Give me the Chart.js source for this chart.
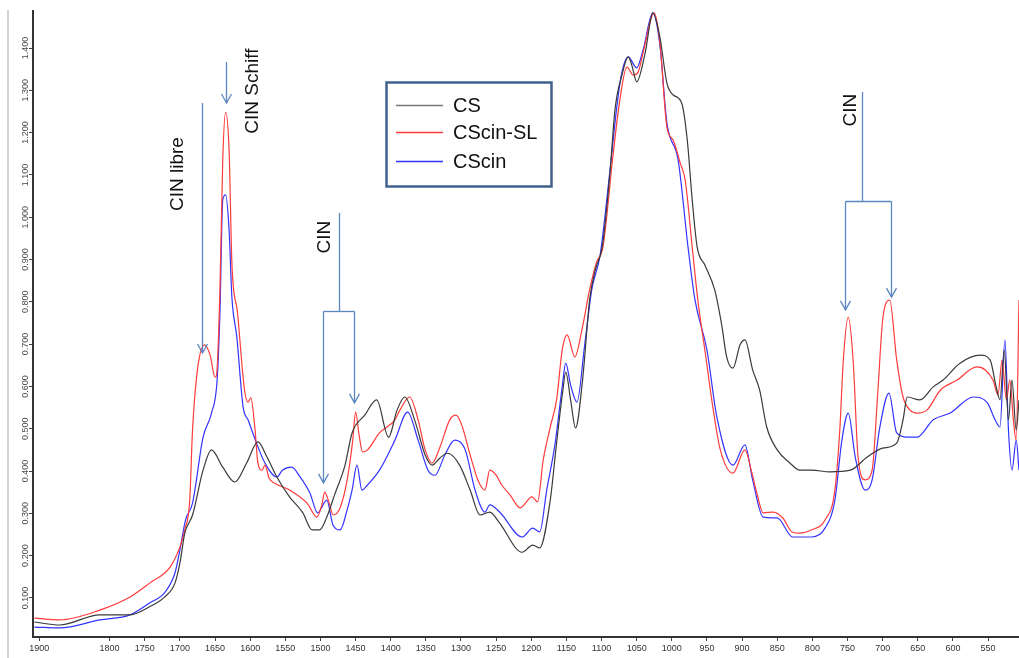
<!DOCTYPE html>
<html>
<head>
<meta charset="utf-8">
<title>FTIR - CS / CScin-SL / CScin</title>
<script src="https://cdn.jsdelivr.net/npm/chart.js@4.4.1/dist/chart.umd.min.js"></script>
<style>
  html, body { margin: 0; padding: 0; background: #fff; }
  #wrap { width: 1019px; height: 658px; }
</style>
</head>
<body>
<div id="wrap"><canvas id="ftir" width="1019" height="658"></canvas></div>
<script>
// --- spectra (wavenumber cm-1 / absorbance) ---
const csWn = [1907,1871,1814,1771,1743,1722,1707,1700,1693,1682,1667,1655,1639,1622,1605,1589,1576,1562,1544,1525,
  1512,1501,1491,1480,1465,1455,1437,1420,1403,1391,1380,1366,1351,1341,1330,1319,1302,1287,1273,1259,
  1245,1213,1198,1188,1173,1164,1155,1151,1144,1137,1127,1117,1109,1099,1088,1081,1071,1062,1057,1050,
  1038,1027,1017,1007,998,986,978,971,964,953,939,929,922,913,903,896,885,875,865,850,
  832,818,801,775,746,722,700,680,671,665,647,628,614,590,561,547,539,533,527,521,516,510,506];
const csAbs = [0.043,0.036,0.060,0.060,0.079,0.102,0.135,0.182,0.253,0.296,0.402,0.450,0.409,0.374,0.419,0.469,0.433,0.386,0.339,0.301,
  0.261,0.261,0.291,0.343,0.414,0.490,0.532,0.568,0.480,0.544,0.575,0.521,0.438,0.414,0.431,0.442,0.414,0.355,0.296,0.303,
  0.277,0.208,0.225,0.218,0.331,0.466,0.591,0.634,0.568,0.502,0.615,0.804,0.875,0.930,1.105,1.253,1.336,1.379,1.360,1.320,
  1.388,1.483,1.426,1.317,1.289,1.270,1.182,1.041,0.930,0.887,0.828,0.745,0.670,0.643,0.698,0.710,0.639,0.591,0.504,0.450,
  0.419,0.402,0.402,0.398,0.402,0.433,0.454,0.466,0.521,0.575,0.568,0.599,0.615,0.655,0.674,0.662,0.603,0.568,0.686,0.521,0.615,0.497,0.568];

const slWn = [1907,1871,1814,1771,1743,1714,1700,1693,1686,1682,1675,1665,1657,1650,1648,1643,1639,1635,1630,1626,
  1618,1608,1603,1599,1593,1589,1583,1579,1573,1565,1544,1519,1505,1498,1494,1488,1482,1472,1462,1454,
  1450,1445,1440,1433,1416,1394,1387,1373,1361,1351,1341,1330,1316,1307,1299,1287,1276,1266,1259,1250,
  1242,1230,1216,1199,1191,1183,1173,1164,1156,1149,1138,1128,1117,1107,1098,1084,1074,1064,1055,1048,
  1041,1025,1017,1007,998,988,981,971,963,953,941,931,913,896,886,879,870,856,842,829,
  818,801,782,768,761,756,749,742,735,725,715,707,700,690,680,671,661,651,637,618,
  594,566,554,543,536,530,524,519,514,510,506];
const slAbs = [0.052,0.048,0.071,0.102,0.135,0.173,0.220,0.261,0.331,0.497,0.639,0.698,0.674,0.622,0.625,0.828,1.135,1.248,1.159,0.892,
  0.774,0.591,0.563,0.573,0.497,0.419,0.402,0.414,0.383,0.371,0.355,0.324,0.291,0.320,0.350,0.327,0.296,0.313,0.379,0.473,
  0.539,0.485,0.445,0.450,0.490,0.521,0.544,0.575,0.521,0.450,0.419,0.456,0.521,0.532,0.509,0.438,0.379,0.355,0.402,0.390,
  0.367,0.343,0.313,0.339,0.327,0.426,0.504,0.568,0.686,0.722,0.670,0.733,0.828,0.894,0.930,1.142,1.277,1.355,1.336,1.343,
  1.388,1.483,1.412,1.213,1.182,1.128,1.088,0.930,0.804,0.686,0.544,0.450,0.395,0.450,0.395,0.348,0.301,0.303,0.289,0.256,
  0.253,0.261,0.284,0.355,0.497,0.662,0.764,0.662,0.433,0.379,0.402,0.584,0.757,0.804,0.662,0.575,0.544,0.537,0.544,0.591,
  0.615,0.646,0.639,0.615,0.580,0.662,0.568,0.615,0.521,0.473,0.804];

const cinWn = [1907,1871,1814,1771,1743,1722,1707,1700,1692,1682,1667,1655,1647,1643,1639,1635,1630,1626,1619,1610,
  1603,1591,1579,1562,1554,1541,1529,1515,1504,1491,1482,1472,1462,1455,1448,1441,1433,1416,1394,1376,
  1361,1347,1337,1323,1309,1294,1280,1266,1259,1245,1213,1198,1188,1178,1166,1156,1151,1144,1135,1124,
  1114,1102,1088,1078,1071,1062,1050,1041,1027,1017,1007,991,977,967,950,936,913,896,885,870,
  850,828,801,782,768,758,749,739,725,715,704,691,680,665,651,628,604,571,551,540,533,526,521,516,510,506];
const cinAbs = [0.031,0.029,0.048,0.060,0.088,0.112,0.159,0.213,0.284,0.324,0.480,0.537,0.615,0.774,1.041,1.053,0.970,0.811,0.717,0.551,
  0.521,0.466,0.419,0.386,0.402,0.409,0.386,0.348,0.301,0.331,0.272,0.261,0.308,0.355,0.414,0.355,0.367,0.402,0.473,0.539,
  0.473,0.402,0.390,0.438,0.473,0.450,0.355,0.303,0.320,0.303,0.244,0.265,0.256,0.355,0.466,0.599,0.655,0.603,0.563,0.698,
  0.828,0.911,1.111,1.265,1.343,1.379,1.353,1.395,1.483,1.407,1.223,1.135,0.930,0.804,0.686,0.528,0.414,0.462,0.379,0.291,
  0.289,0.244,0.244,0.265,0.331,0.473,0.537,0.433,0.355,0.379,0.504,0.584,0.490,0.480,0.480,0.521,0.537,0.575,0.561,0.521,0.504,0.710,0.497,0.402,0.473,0.402];

const seriesNames = ['CS', 'CScin-SL', 'CScin'];
const seriesColors = ['#3a3a3a', '#ff3b3b', '#3333ff'];

const xTicks = [1900,1800,1750,1700,1650,1600,1550,1500,1450,1400,1350,1300,1250,1200,1150,1100,1050,1000,950,900,850,800,750,700,650,600,550];
const yTicks = [0.1,0.2,0.3,0.4,0.5,0.6,0.7,0.8,0.9,1.0,1.1,1.2,1.3,1.4];

// annotations (in wavenumber / absorbance)
const noteTexts = ['CIN libre', 'CIN Schiff', 'CIN', 'CIN'];
const noteWn = [1703, 1596, 1494, 746];
const noteAbs = [1.102, 1.298, 0.953, 1.253];
// single arrows: wn, from, to
const singleArrows = [[1669, 1.270, 0.679], [1635, 1.367, 1.270]];
// forked arrows: stem wn, stem top, fork level, [leg wn, tip] x2
const forkArrows = [
  [1474, 1.010, 0.778, [[1497, 0.372], [1452.5, 0.561]]],
  [729, 1.296, 1.038, [[753.5, 0.781], [688, 0.811]]]
];

const FONT = '"Liberation Sans", Arial, sans-serif';

function toPoints(wn, ab) {
  return wn.map((w, i) => ({ x: w, y: ab[i] }));
}

const decorations = {
  id: 'decorations',
  afterDraw(chart) {
    const { ctx, chartArea } = chart;
    const xs = chart.scales.x, ys = chart.scales.y;
    ctx.save();

    // light frame line on the left
    ctx.strokeStyle = '#d2d2d2';
    ctx.lineWidth = 2;
    ctx.beginPath();
    ctx.moveTo(8, 10);
    ctx.lineTo(8, chart.height);
    ctx.stroke();

    // rotated y tick labels
    ctx.fillStyle = '#4a4a4a';
    ctx.font = '9px ' + FONT;
    ctx.textAlign = 'center';
    ctx.textBaseline = 'middle';
    yTicks.forEach(v => {
      ctx.save();
      ctx.translate(chartArea.left - 7, ys.getPixelForValue(v));
      ctx.rotate(-Math.PI / 2);
      ctx.fillText(v.toFixed(3), 0, 0);
      ctx.restore();
    });

    // arrows
    ctx.strokeStyle = '#5b87c2';
    ctx.lineWidth = 1.3;
    const arrowHead = (px, py) => {
      ctx.beginPath();
      ctx.moveTo(px - 5, py - 9);
      ctx.lineTo(px, py);
      ctx.lineTo(px + 5, py - 9);
      ctx.stroke();
    };
    singleArrows.forEach(([w, a0, a1]) => {
      const px = Math.round(xs.getPixelForValue(w)) + 0.5;
      const p0 = ys.getPixelForValue(a0), p1 = ys.getPixelForValue(a1);
      ctx.beginPath(); ctx.moveTo(px, p0); ctx.lineTo(px, p1); ctx.stroke();
      arrowHead(px, p1);
    });
    forkArrows.forEach(([w, top, fork, legs]) => {
      const px = Math.round(xs.getPixelForValue(w)) + 0.5;
      const pf = Math.round(ys.getPixelForValue(fork)) + 0.5;
      ctx.beginPath(); ctx.moveTo(px, ys.getPixelForValue(top)); ctx.lineTo(px, pf); ctx.stroke();
      const lx = legs.map(l => Math.round(xs.getPixelForValue(l[0])) + 0.5);
      ctx.beginPath(); ctx.moveTo(lx[0], pf); ctx.lineTo(lx[1], pf); ctx.stroke();
      legs.forEach((l, i) => {
        const tip = ys.getPixelForValue(l[1]);
        ctx.beginPath(); ctx.moveTo(lx[i], pf); ctx.lineTo(lx[i], tip); ctx.stroke();
        arrowHead(lx[i], tip);
      });
    });

    // annotation texts, rotated
    ctx.fillStyle = '#111';
    ctx.font = '19px ' + FONT;
    noteTexts.forEach((t, i) => {
      ctx.save();
      ctx.translate(xs.getPixelForValue(noteWn[i]), ys.getPixelForValue(noteAbs[i]));
      ctx.rotate(-Math.PI / 2);
      ctx.fillText(t, 0, 0);
      ctx.restore();
    });

    // legend box
    ctx.strokeStyle = '#41618c';
    ctx.lineWidth = 2.5;
    ctx.strokeRect(386.5, 82.5, 165, 104);
    ctx.font = '20px ' + FONT;
    ctx.textAlign = 'left';
    [105, 132, 161].forEach((ly, i) => {
      ctx.strokeStyle = i === 0 ? '#777' : seriesColors[i];
      ctx.lineWidth = 1.4;
      ctx.beginPath(); ctx.moveTo(396, ly + 0.5); ctx.lineTo(443, ly + 0.5); ctx.stroke();
      ctx.fillStyle = '#111';
      ctx.fillText(seriesNames[i], 453, ly + 1);
    });

    ctx.restore();
  }
};

const gridOpts = { display: true, drawOnChartArea: false, drawTicks: true, tickLength: 4, color: '#444' };

new Chart(document.getElementById('ftir'), {
  type: 'line',
  data: {
    datasets: [
      { label: seriesNames[0], data: toPoints(csWn, csAbs), borderColor: seriesColors[0] },
      { label: seriesNames[1], data: toPoints(slWn, slAbs), borderColor: seriesColors[1] },
      { label: seriesNames[2], data: toPoints(cinWn, cinAbs), borderColor: seriesColors[2] }
    ]
  },
  options: {
    responsive: false,
    animation: false,
    devicePixelRatio: 1,
    layout: { padding: { top: 11, right: 0, bottom: 0, left: 0 } },
    elements: {
      point: { radius: 0 },
      line: { borderWidth: 1.2, cubicInterpolationMode: 'monotone' }
    },
    plugins: { legend: { display: false }, tooltip: { enabled: false } },
    scales: {
      x: {
        type: 'linear',
        reverse: true,
        min: 506,
        max: 1909,
        afterBuildTicks: s => { s.ticks = xTicks.map(v => ({ value: v })); },
        afterFit: s => { s.height = 21; },
        grid: gridOpts,
        border: { display: true, color: '#333', width: 2 },
        ticks: {
          color: '#333',
          font: { size: 9, family: FONT },
          padding: 2,
          maxRotation: 0,
          autoSkip: false,
          callback: v => String(v)
        }
      },
      y: {
        type: 'linear',
        min: 0.0076,
        max: 1.4875,
        afterBuildTicks: s => { s.ticks = yTicks.map(v => ({ value: v })); },
        afterFit: s => { s.width = 33; },
        grid: gridOpts,
        border: { display: true, color: '#333', width: 2 },
        ticks: { display: false }
      }
    }
  },
  plugins: [decorations]
});
</script>
</body>
</html>
